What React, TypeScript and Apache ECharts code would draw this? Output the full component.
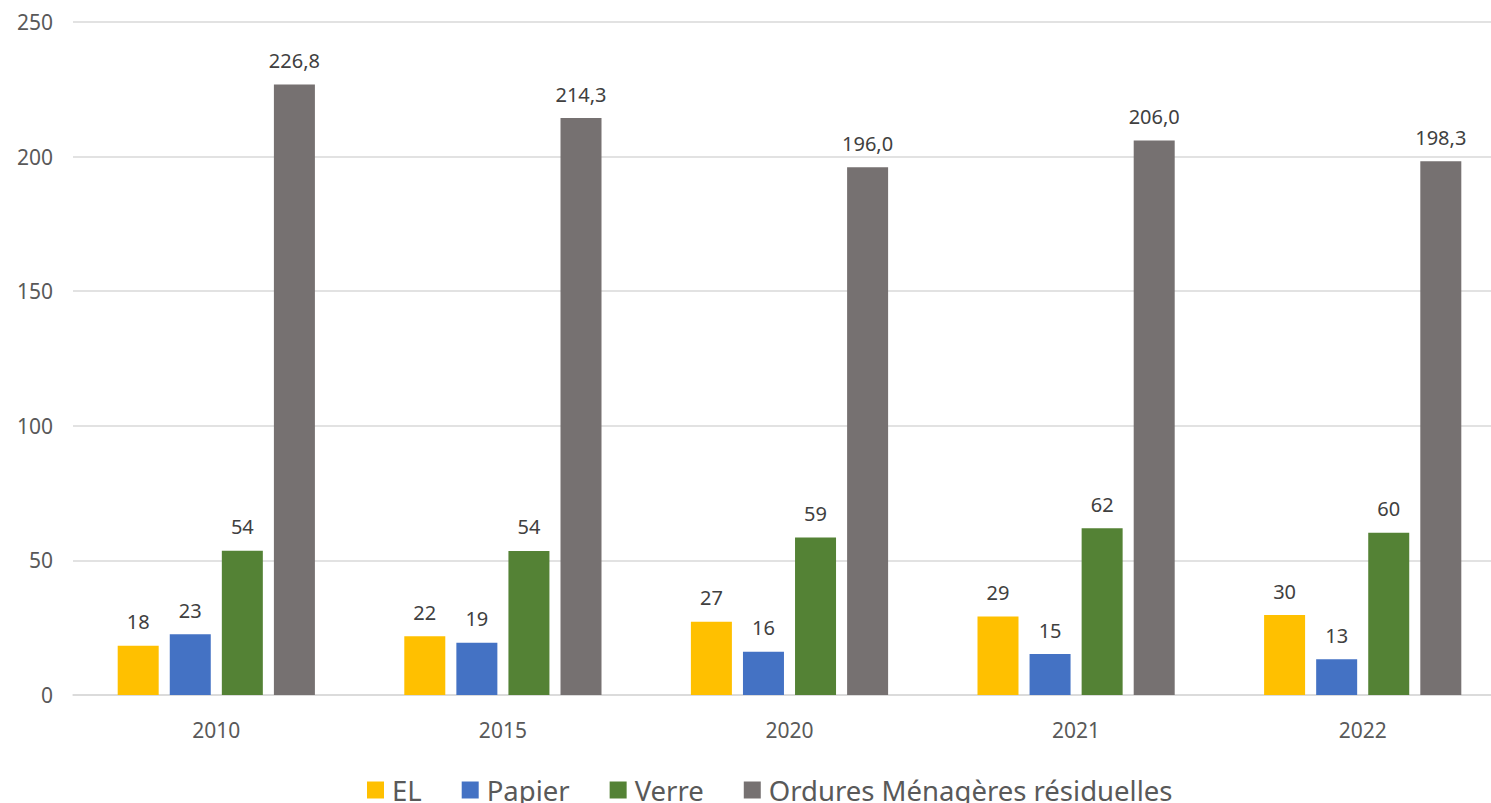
import React, { useEffect, useRef } from "react";
import * as echarts from "echarts";

const categories = ["2010", "2015", "2020", "2021", "2022"];
const seriesNames = ["EL", "Papier", "Verre", "Ordures Ménagères résiduelles"];
const elValues = [18.3, 21.8, 27.2, 29.2, 29.7];
const papierValues = [22.6, 19.4, 16.1, 15.2, 13.3];
const verreValues = [53.6, 53.5, 58.5, 61.9, 60.3];
const omrValues = [226.8, 214.3, 196.0, 206.0, 198.3];
const colors = ["#FFC000", "#4472C4", "#548235", "#767171"];
const yTicks = { min: 0, max: 250, interval: 50 };

const FONT = "'Noto Sans', sans-serif";

export default function App() {
  const ref = useRef<HTMLDivElement>(null);
  useEffect(() => {
    if (!ref.current) return;
    const chart = echarts.init(ref.current, null, { renderer: "svg" });
    const dataSets = [elValues, papierValues, verreValues, omrValues];
    const series = dataSets.map((d, i) => ({
      name: seriesNames[i],
      type: "bar",
      data: d,
      barWidth: 41,
      barGap: "27%",
      itemStyle: { color: colors[i] },
      label: {
        show: true,
        position: "top",
        distance: 14,
        fontFamily: FONT,
        fontSize: 20,
        color: "#404040",
        formatter: (p: any) =>
          i === 3 ? p.value.toFixed(1).replace(".", ",") : String(Math.round(p.value)),
      },
    }));
    chart.setOption({
      animation: false,
      textStyle: { fontFamily: FONT },
      grid: { left: 73, right: 0, top: 22, bottom: 108, containLabel: false },
      legend: {
        data: seriesNames,
        top: 771,
        left: 362,
        itemWidth: 17,
        itemHeight: 17,
        itemGap: 40,
        icon: "rect",
        textStyle: { fontFamily: FONT, fontSize: 27.5, color: "#595959", padding: [0, 0, 0, 3] },
      },
      xAxis: {
        type: "category",
        data: categories,
        axisLine: { show: true, lineStyle: { color: "#D9D9D9", width: 1.5 } },
        axisTick: { show: false },
        axisLabel: { margin: 24, fontSize: 21, color: "#595959", fontFamily: FONT },
      },
      yAxis: {
        type: "value",
        min: yTicks.min,
        max: yTicks.max,
        interval: yTicks.interval,
        axisLine: { show: false },
        axisTick: { show: false },
        splitLine: { lineStyle: { color: "#D9D9D9", width: 1.5 } },
        axisLabel: { margin: 20, fontSize: 21, color: "#595959", fontFamily: FONT },
      },
      series,
    });
    return () => chart.dispose();
  }, []);
  return (
    <div style={{ position: "fixed", left: 0, top: 0, width: 1491, height: 803, overflow: "hidden", background: "#fff" }}>
      <div ref={ref} style={{ position: "absolute", left: 0, top: 0, width: 1506, height: 803 }} />
    </div>
  );
}
